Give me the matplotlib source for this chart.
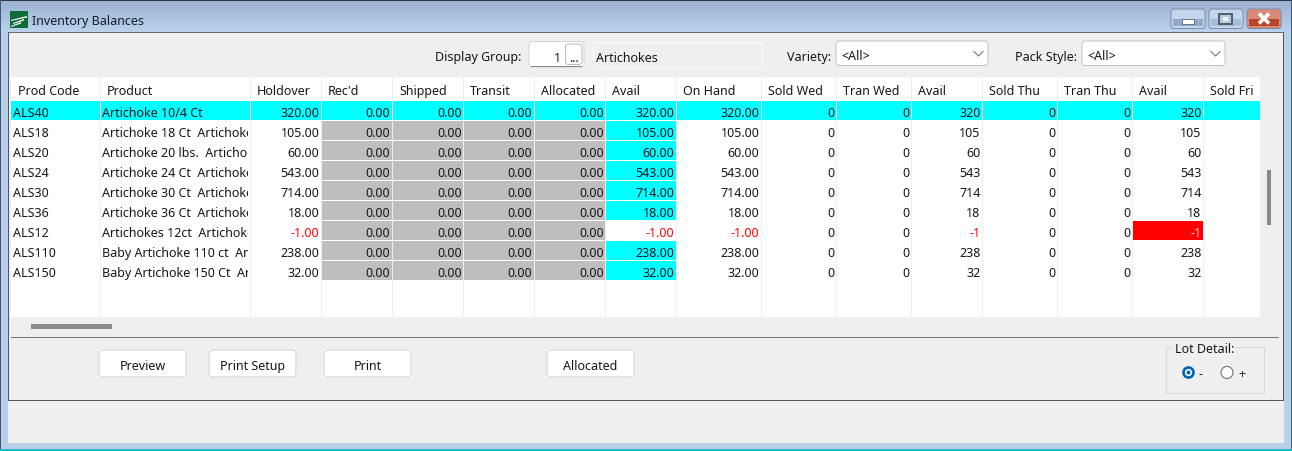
import numpy as np
import matplotlib
matplotlib.use('Agg')
from matplotlib import pyplot as plt
from matplotlib.patches import Rectangle, FancyBboxPatch, Circle, Polygon
from matplotlib.transforms import Bbox

plt.rcParams['font.family'] = ['Noto Sans', 'DejaVu Sans']

# table data
headers = ['Prod Code', 'Product', 'Holdover', "Rec'd", 'Shipped', 'Transit', 'Allocated', 'Avail',
           'On Hand', 'Sold Wed', 'Tran Wed', 'Avail', 'Sold Thu', 'Tran Thu', 'Avail', 'Sold Fri']
codes = ['ALS40', 'ALS18', 'ALS20', 'ALS24', 'ALS30', 'ALS36', 'ALS12', 'ALS110', 'ALS150']
products = ['Artichoke 10/4 Ct', 'Artichoke 18 Ct  Artichoke', 'Artichoke 20 lbs.  Artichok',
            'Artichoke 24 Ct  Artichoke', 'Artichoke 30 Ct  Artichoke', 'Artichoke 36 Ct  Artichoke',
            'Artichokes 12ct  Artichoke', 'Baby Artichoke 110 ct  Ar', 'Baby Artichoke 150 Ct  Ar']
holdover = [320, 105, 60, 543, 714, 18, -1, 238, 32]
recd = [0, 0, 0, 0, 0, 0, 0, 0, 0]
shipped = [0, 0, 0, 0, 0, 0, 0, 0, 0]
transit = [0, 0, 0, 0, 0, 0, 0, 0, 0]
allocated = [0, 0, 0, 0, 0, 0, 0, 0, 0]
avail = [320, 105, 60, 543, 714, 18, -1, 238, 32]
on_hand = [320, 105, 60, 543, 714, 18, -1, 238, 32]
sold_wed = [0, 0, 0, 0, 0, 0, 0, 0, 0]
tran_wed = [0, 0, 0, 0, 0, 0, 0, 0, 0]
avail_wed = [320, 105, 60, 543, 714, 18, -1, 238, 32]
sold_thu = [0, 0, 0, 0, 0, 0, 0, 0, 0]
tran_thu = [0, 0, 0, 0, 0, 0, 0, 0, 0]
avail_thu = [320, 105, 60, 543, 714, 18, -1, 238, 32]

col_x = [11, 100, 250, 321, 392, 463, 534, 605, 676, 761, 836, 911, 982, 1057, 1132, 1203, 1260]
header_x = [18, 107, 257, 328, 399, 470, 541, 612, 683, 768, 843, 918, 989, 1064, 1139, 1210]
buttons = [('Preview', 99), ('Print Setup', 209), ('Print', 324), ('Allocated', 547)]

GREY = '#efefef'
CYAN = '#00ffff'
SILVER = '#bebebe'
INK = '#1a1420'
FS = 9.0
PX = 0.72  # one pixel in points

fig = plt.figure(figsize=(12.92, 4.52), dpi=100)
ax = fig.add_axes([0, 0, 1, 1])
ax.set_xlim(0, 1292)
ax.set_ylim(452, 0)
ax.axis('off')


def box(x0, y0, x1, y1, color, z=1, edge='none', lw=0):
    r = Rectangle((x0, y0), x1 - x0, y1 - y0, facecolor=color, edgecolor=edge, linewidth=lw,
                  antialiased=False, zorder=z)
    ax.add_patch(r)
    return r


def label(x, y, s, ha='left', color=INK, size=FS, z=5):
    return ax.text(x, y + 4.5, s, ha=ha, va='baseline', color=color, fontsize=size, zorder=z)


def rounded(x0, y0, x1, y1, face, edge, z=3, lw=PX):
    p = FancyBboxPatch((x0 + 2, y0 + 2), x1 - x0 - 4, y1 - y0 - 4, boxstyle='round,pad=2,rounding_size=3',
                       facecolor=face, edgecolor=edge, linewidth=lw, zorder=z)
    ax.add_patch(p)


# window frame
box(0, 0, 1292, 452, '#b8d0ea', 0)
title_top = np.array(matplotlib.colors.to_rgb('#9bb3d1'))
title_bot = np.array(matplotlib.colors.to_rgb('#b9d1ec'))
ax.imshow(np.array([title_top * (1 - g) + title_bot * g for g in np.linspace(0, 1, 32)]).reshape(32, 1, 3),
          extent=(0, 1292, 33, 1), aspect='auto', zorder=0.5)
ax.set_xlim(0, 1292)
ax.set_ylim(452, 0)
box(0, 0, 1292, 1.5, '#2d3540', 0.6)
box(0, 0, 1, 452, '#3a5a78', 0.6)
box(1291, 0, 1292, 452, '#3a5a78', 0.6)
box(0, 450, 1292, 452, '#1fb4c8', 0.6)
box(8, 33, 1284, 444, GREY, 1)
box(8, 33, 1284, 34, '#6a6a6a', 1.2)
box(8, 33, 9, 402, '#555555', 1.2)
box(1283, 33, 1284, 402, '#555555', 1.2)
box(8, 401, 1284, 402, '#555555', 1.2)

# title bar
box(10, 12, 28, 29, '#0f6b3a', 2)
for yy, xs in [(19, (11, 27)), (22, (13, 24)), (25, (11, 21))]:
    ax.add_patch(Polygon([(xs[0], yy + 2), (xs[1], yy - 2), (xs[1], yy - 0.5), (xs[0], yy + 3)],
                         facecolor='white', edgecolor='none', zorder=3))
label(32, 21, 'Inventory Balances', color='#10202c')
for x0, c0, c1 in [(1171, '#c3d6ec', '#8fabc9'), (1209, '#c3d6ec', '#a3bcd8'), (1247, '#d98a78', '#b8442c')]:
    x1 = x0 + 34
    rounded(x0, 10, x1, 29.5, c0, '#7c8ea6', 2)
    box(x0 + 2, 20, x1 - 2, 27, c1, 2.1)
box(1182, 20, 1194, 25, 'white', 3, '#66778a', PX)
box(1219, 15, 1232, 25, '#b9cbe0', 3, '#555f6c', 1.2)
box(1223, 18, 1228, 22, '#eef3f9', 3.1)
ax.plot([1259, 1269], [14.5, 24.5], color='white', lw=2.6, solid_capstyle='butt', zorder=4)
ax.plot([1259, 1269], [24.5, 14.5], color='white', lw=2.6, solid_capstyle='butt', zorder=4)

# top controls
label(435, 57, 'Display Group:')
rounded(529, 42.5, 584, 68, 'white', '#d4d4d4')
box(531, 67, 582, 68, '#8a8a8a', 3.1)
label(561, 57, '1', ha='right')
rounded(565.5, 45, 582, 65.5, 'white', '#bbbbbb', 4)
label(574, 57, '...', ha='center')
box(593, 43, 762, 67.5, GREY, 2, '#fbfbfb', PX)
label(596, 57, 'Artichokes')
label(787, 56, 'Variety:')
label(1015, 56, 'Pack Style:')
for x0, x1 in [(836, 988), (1082, 1225)]:
    rounded(x0, 42, x1, 66.5, 'white', '#c4c4c4')
    label(x0 + 5, 55.5, '<All>')
    ax.plot([x1 - 14, x1 - 9.5, x1 - 5], [52.5, 57, 52.5], color='#777777', lw=0.8, zorder=5)

# grid
box(11, 78, 1260, 318, 'white', 2)
for x in col_x[1:-1]:
    box(x, 78, x + 1, 318, GREY, 2.5)
for h, x in zip(headers, header_x):
    label(x, 90.5, h)

columns = [holdover, recd, shipped, transit, allocated, avail, on_hand,
           sold_wed, tran_wed, avail_wed, sold_thu, tran_thu, avail_thu]
decimals = [2, 2, 2, 2, 2, 2, 2, 0, 0, 0, 0, 0, 0]
for i in range(len(codes)):
    top = 102 + 20 * i
    mid = top + 10.5
    if i == 0:
        box(11, top, 1260, top + 19, CYAN, 2.2)
        for x in col_x[1:-1]:
            box(x, top, x + 1, top + 19, 'white', 2.5)
    label(13, mid, codes[i])
    t = label(102, mid, products[i])
    # the product column cuts its text off, clip box is in display pixels
    t.set_clip_box(Bbox([[100, 452 - top - 20], [248, 452 - top]]))
    t.set_clip_on(True)
    for j, col in enumerate(columns):
        x0, x1 = col_x[j + 2], col_x[j + 3]
        v = col[i]
        color = 'red' if v < 0 else INK
        if i > 0 and 1 <= j <= 4:
            box(x0 + 1, top, x1, top + 19, SILVER, 2.6)
        if i > 0 and j == 5 and v > 0:
            box(x0 + 1, top, x1, top + 19, CYAN, 2.6)
        if j == 5 and v < 0:
            box(x0 + 1, top, x1, top + 19, 'white', 2.6)
        if j == 12 and v < 0:
            box(x0 + 1, top, x1, top + 19, 'red', 2.6)
            color = '#ffd8d8'
        label(x1 - 1.5, mid, f'{v:.{decimals[j]}f}', ha='right', color=color)

# scrollbars and separator
box(1267, 171, 1271, 226, '#8a8a8a', 3)
box(31, 325, 112, 330, '#8a8a8a', 3)
box(11, 338, 1279, 339, '#777777', 3)

# buttons
for name, x0 in buttons:
    box(x0 - 1, 350, x0 + 88, 379, '#fbfbfb', 2)
    rounded(x0, 351, x0 + 87, 378, 'white', '#cccccc')
    label(x0 + 43.5, 365.5, name, ha='center')

# lot detail
box(1166, 348, 1264, 394, GREY, 2, '#d8d8d8', PX)
box(1172, 344, 1236, 354, GREY, 2.2)
label(1175, 349, 'Lot Detail:')
ax.add_patch(Circle((1188.5, 373.5), 5, facecolor='white', edgecolor='#0063b1', linewidth=1.9, zorder=4))
ax.add_patch(Circle((1188.5, 373.5), 2.0, facecolor='#0063b1', edgecolor='none', zorder=5))
ax.add_patch(Circle((1227, 373.5), 6, facecolor='white', edgecolor='#666666', linewidth=PX, zorder=4))
label(1198.5, 373.5, '-')
label(1238, 373.5, '+')

fig.savefig('out.png', dpi=100)
